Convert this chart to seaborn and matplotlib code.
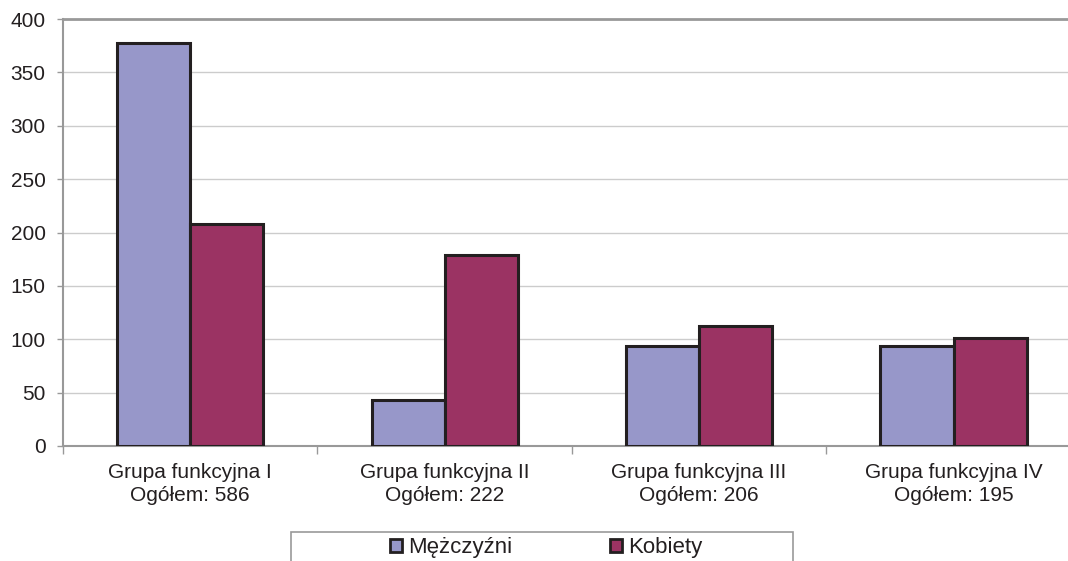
import matplotlib
matplotlib.use("Agg")
import matplotlib.pyplot as plt
import matplotlib.patches as mpatches
from matplotlib.ticker import FixedLocator
import seaborn as sns
import pandas as pd

# Liczba pracowników według grup funkcyjnych i płci
groups = ["Grupa funkcyjna I", "Grupa funkcyjna II", "Grupa funkcyjna III", "Grupa funkcyjna IV"]
totals = [586, 222, 206, 195]
men = [378, 43, 94, 94]
women = [208, 179, 112, 101]
series = ["Mężczyźni", "Kobiety"]
colors = ["#9797C9", "#9B3363"]

tick_labels = [f"{g}\nOgółem: {t}" for g, t in zip(groups, totals)]

df = pd.DataFrame({
    "grupa": tick_labels * 2,
    "plec": [series[0]] * len(groups) + [series[1]] * len(groups),
    "liczba": men + women,
})

sns.set_theme(style="white")
plt.rcParams["font.family"] = ["Liberation Sans", "DejaVu Sans"]

fig = plt.figure(figsize=(10.68, 5.61), dpi=100)
ax = fig.add_axes([0.059, 0.205, 0.941, 0.761])

sns.barplot(
    data=df, x="grupa", y="liczba", hue="plec",
    order=tick_labels, hue_order=series, palette=colors,
    width=0.575, gap=0, edgecolor="#231F20", linewidth=2.2,
    saturation=1, legend=False, ax=ax, zorder=3,
)

ax.set_xlim(-0.5, 3.45)
ax.set_ylim(0, 400)
ax.set_yticks(range(0, 401, 50))
ax.yaxis.grid(True, color="#CCCCCC", linewidth=1, zorder=0)
ax.set_axisbelow(True)
ax.set_xlabel("")
ax.set_ylabel("")

for side in ["left", "bottom", "top"]:
    ax.spines[side].set_visible(True)
    ax.spines[side].set_color("#999999")
ax.spines["top"].set_linewidth(2.0)
ax.spines["left"].set_linewidth(1.5)
ax.spines["bottom"].set_linewidth(1.5)
ax.spines["right"].set_visible(False)

ax.tick_params(axis="y", which="major", length=4.5, width=1, color="#999999",
               pad=8, labelsize=15, labelcolor="#231F20", left=True)
ax.tick_params(axis="x", which="major", length=0, pad=12, labelsize=15,
               labelcolor="#231F20", bottom=True)
ax.xaxis.set_minor_locator(FixedLocator([-0.5, 0.5, 1.5, 2.5]))
ax.tick_params(axis="x", which="minor", length=6, width=1, color="#999999", bottom=True)
for lbl in ax.get_xticklabels():
    lbl.set_linespacing(1.3)

# Ramka legendy pod wykresem
fig.patches.append(mpatches.Rectangle(
    (291 / 1068, -0.05), (793 - 291) / 1068, 0.05 + (561 - 532) / 561,
    transform=fig.transFigure, facecolor="white", edgecolor="#999999",
    linewidth=1.2, zorder=1))

handles = [mpatches.Patch(facecolor=c, edgecolor="#231F20", linewidth=2.0, label=s)
           for c, s in zip(colors, series)]
fig.legend(handles=handles, loc="center", bbox_to_anchor=(546 / 1068, 1 - 548 / 561),
           ncol=2, frameon=False, fontsize=16, handlelength=0.55, handleheight=0.55,
           handletextpad=0.27, columnspacing=4.4, labelcolor="#231F20")

fig.savefig("out.png", dpi=100)
